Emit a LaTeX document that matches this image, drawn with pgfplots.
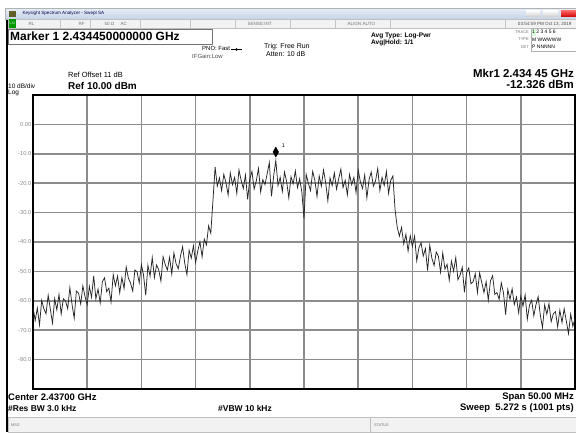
\documentclass[border=0pt]{standalone}
\usepackage{pgfplots}
\pgfplotsset{compat=1.18}
\usepackage{pgfplotstable}
\usepackage{fontspec}
\setmainfont{Liberation Sans}
\definecolor{gridc}{gray}{0.55}
\definecolor{barc}{HTML}{F2F2F2}
\definecolor{titlea}{HTML}{E6EDF7}
\definecolor{titleb}{HTML}{C5D4E8}
\definecolor{stxt}{gray}{0.45}
\newcommand{\fs}[1]{\fontsize{#1}{#1}\selectfont}

\pgfplotstableread[row sep=\\]{
y\\
-62.0\\ -66.7\\ -62.5\\ -68.2\\ -59.9\\ -62.7\\ -64.4\\ -58.1\\ -62.9\\ -67.6\\
-59.3\\ -63.1\\ -57.8\\ -64.5\\ -59.3\\ -60.0\\ -62.7\\ -55.5\\ -61.2\\ -65.9\\
-56.7\\ -57.4\\ -61.1\\ -54.9\\ -58.6\\ -61.3\\ -55.1\\ -58.8\\ -51.5\\ -59.3\\
-56.0\\ -60.7\\ -53.5\\ -52.2\\ -56.9\\ -55.7\\ -60.4\\ -51.1\\ -54.9\\ -51.6\\
-57.3\\ -52.1\\ -55.8\\ -48.5\\ -52.3\\ -54.0\\ -56.7\\ -49.5\\ -50.2\\ -53.9\\
-47.7\\ -51.4\\ -58.1\\ -47.9\\ -51.6\\ -45.3\\ -52.1\\ -47.8\\ -49.5\\ -53.3\\
-45.0\\ -47.7\\ -49.5\\ -45.2\\ -50.9\\ -43.7\\ -47.4\\ -49.1\\ -44.9\\ -41.6\\
-47.3\\ -51.1\\ -42.8\\ -45.5\\ -41.3\\ -47.0\\ -43.0\\ -40.0\\ -45.0\\ -39.0\\
-41.0\\ -34.5\\ -37.0\\ -26.0\\
-14.5\\ -21.0\\ -18.2\\ -22.5\\ -17.0\\ -19.8\\ -24.0\\ -16.5\\ -20.5\\ -18.0\\
-23.5\\ -15.5\\ -19.0\\ -21.8\\ -17.2\\ -25.5\\ -18.5\\ -16.0\\ -22.0\\ -19.2\\
-15.0\\ -23.0\\ -18.8\\ -20.5\\ -16.8\\ -13.0\\ -24.5\\ -17.5\\ -12.3\\ -20.8\\
-18.0\\ -22.8\\ -16.2\\ -19.5\\ -25.0\\ -17.8\\ -20.2\\ -15.8\\ -21.5\\ -18.5\\
-23.0\\ -32.0\\
-17.0\\ -20.0\\ -22.5\\ -16.0\\ -19.0\\ -24.5\\ -17.5\\ -21.0\\ -15.5\\ -19.8\\
-26.0\\ -18.2\\ -20.8\\ -16.5\\ -22.0\\ -18.5\\ -15.2\\ -21.5\\ -19.0\\ -24.0\\
-17.0\\ -20.5\\ -18.0\\ -23.2\\ -15.5\\ -19.5\\ -21.8\\ -17.2\\ -25.0\\ -18.8\\
-16.2\\ -21.0\\ -19.2\\ -15.0\\ -22.5\\ -18.0\\ -20.8\\ -16.0\\ -23.5\\ -19.0\\
-17.5\\ -29.0\\
-35.0\\ -38.0\\ -35.0\\ -40.7\\ -37.4\\ -43.1\\ -37.8\\ -41.5\\ -38.0\\ -46.4\\
-41.9\\ -40.3\\ -44.8\\ -42.2\\ -49.7\\ -41.1\\ -45.6\\ -48.0\\ -43.4\\ -44.9\\
-50.3\\ -43.7\\ -49.2\\ -47.6\\ -53.0\\ -46.5\\ -49.9\\ -45.3\\ -52.8\\ -51.2\\
-48.6\\ -57.1\\ -50.5\\ -48.8\\ -54.2\\ -53.5\\ -50.8\\ -57.2\\ -50.5\\ -53.8\\
-57.2\\ -53.5\\ -59.8\\ -53.2\\ -51.5\\ -57.8\\ -57.2\\ -59.5\\ -53.9\\ -57.3\\
-64.7\\ -56.1\\ -59.5\\ -55.9\\ -61.3\\ -58.7\\ -64.1\\ -58.5\\ -61.8\\ -58.0\\
-66.3\\ -61.5\\ -59.8\\ -65.1\\ -61.3\\ -58.6\\ -64.9\\ -69.1\\ -61.4\\ -64.6\\
-60.9\\ -67.1\\ -64.4\\ -63.7\\ -68.9\\ -63.2\\ -67.4\\ -62.7\\ -66.9\\ -71.2\\
-64.5\\ -68.7\\ -66.0\\
}\trace

\begin{document}
\begin{tikzpicture}[x=1bp,y=1bp]
\useasboundingbox (0,0) rectangle (576,432);
\fill[white] (0,0) rectangle (576,432);

\begin{axis}[
  at={(33bp,43bp)}, anchor=south west,
  width=542bp, height=294bp, scale only axis,
  xmin=-25, xmax=25, ymin=-90, ymax=10,
  xtick={-20,-15,...,20}, xticklabels={},
  ytick={-80,-70,...,0},
  yticklabels={-80.0,-70.0,-60.0,-50.0,-40.0,-30.0,-20.0,-10.0,0.00},
  major tick length=0pt,
  grid=major, grid style={gridc, line width=1.5bp},
  axis line style={black, line width=2bp},
  yticklabel style={font=\fs{5.8}, text=black!45, inner sep=1.5bp},
  clip=true,
]
\addplot[black!85, line width=0.75bp] table[x expr=\coordindex*0.2-25, y=y] {\trace};
\addplot[only marks, mark=diamond*, mark size=5bp, black,
  mark options={xscale=0.75}] coordinates {(-2.6,-9.4)};
\node[font=\fs{5.5}] at (axis cs:-1.9,-7.3) {1};
\end{axis}

\begin{scope}[shift={(0,432)}, yscale=-1]
% window border
\draw[black, line width=2bp] (7,19) -- (7,432);
% title bar
\shade[top color=titlea, bottom color=titleb] (5,8.5) rectangle (576,19);
\draw[gray!60, line width=0.4bp] (5,8.5) rectangle (576,19);
\fill[olive!60!black] (9,11) rectangle (16,17);
\node[anchor=west, font=\fs{4.6}, text=blue!30!black] at (19,13.8) {Keysight Spectrum Analyzer - Swept SA};
\shade[top color=white, bottom color=gray!40] (526,10.5) rectangle (540,17);
\shade[top color=white, bottom color=gray!40] (543,10.5) rectangle (558,17);
\shade[top color=red!60, bottom color=red!80!black] (561,10.5) rectangle (576,17);
% status row
\fill[barc] (8,19) rectangle (576,28.5);
\draw[gray!50, line width=0.4bp] (8,19) rectangle (576,28.5);
\fill[green!60!black] (8.5,19.5) rectangle (16,28);
\node[font=\fs{3.5}, text=white] at (12.2,23.8) {LXI};
\foreach \xx in {60,90,140,190,235,290,335,390,505} \draw[gray!45, line width=0.4bp] (\xx,19) -- (\xx,28.5);
\node[anchor=west, font=\fs{4.6}, text=stxt] at (25,23.8) {RL};
\node[anchor=west, font=\fs{4.6}, text=stxt] at (75,23.8) {RF};
\node[anchor=west, font=\fs{4.6}, text=stxt] at (101,23.8) {50 Ω};
\node[anchor=west, font=\fs{4.6}, text=stxt] at (117,23.8) {AC};
\node[anchor=west, font=\fs{4.6}, text=stxt] at (244,23.8) {SENSE:INT};
\node[anchor=west, font=\fs{4.6}, text=stxt] at (344,23.8) {ALIGN AUTO};
\node[anchor=east, font=\fs{4.6}, text=black!70] at (575,23.8) {03:54:59 PM Oct 13, 2019};
% marker box
\draw[black!55, line width=0.6bp] (8,29) rectangle (212,44);
\node[anchor=west, font=\bfseries\fs{12}, inner sep=0pt] at (10,36.5) {Marker 1 2.434450000000 GHz};
\node[anchor=west, font=\fs{6}, inner sep=0pt] at (202,48.5) {PNO: Fast};
\node[anchor=west, font=\fs{6}, text=black!70, inner sep=0pt] at (192,56.5) {IFGain:Low};
\draw[black, line width=0.5bp] (231,49.5) -- (242,49.5);
\fill[black] (236.5,49.5) circle (1.3);
\node[anchor=west, font=\fs{7}, inner sep=0pt] at (264,46.5) {Trig: Free Run};
\node[anchor=west, font=\fs{7}, inner sep=0pt] at (266,54.5) {Atten: 10 dB};
\node[anchor=west, font=\bfseries\fs{6.6}, inner sep=0pt] at (371,35.5) {Avg Type: Log-Pwr};
\node[anchor=west, font=\bfseries\fs{6.6}, inner sep=0pt] at (371,43) {Avg|Hold: 1/1};
% trace panel
\node[anchor=east, font=\fs{4}, text=stxt, inner sep=0pt] at (529,32) {TRACE};
\node[anchor=east, font=\fs{4}, text=stxt, inner sep=0pt] at (529,39.5) {TYPE};
\node[anchor=east, font=\fs{4}, text=stxt, inner sep=0pt] at (529,47) {DET};
\draw[gray!60, line width=0.4bp] (531,28.5) rectangle (576,51);
\fill[green!15] (531.5,29) rectangle (535.5,35.5);
\node[anchor=west, font=\fs{5}, inner sep=0pt] at (532,32) {1 2 3 4 5 6};
\node[anchor=west, font=\fs{5}, inner sep=0pt] at (532,39.5) {M WWWWW};
\node[anchor=west, font=\fs{5}, inner sep=0pt] at (532,47) {P NNNNN};
% reference text
\node[anchor=west, font=\fs{7.5}, inner sep=0pt] at (68,75) {Ref Offset 11 dB};
\node[anchor=west, font=\bfseries\fs{10}, inner sep=0pt] at (68,85.5) {Ref 10.00 dBm};
\node[anchor=west, font=\fs{6.5}, inner sep=0pt] at (8,86) {10 dB/div};
\node[anchor=west, font=\fs{6.5}, inner sep=0pt] at (8,92.5) {Log};
\node[anchor=east, font=\bfseries\fs{11.5}, inner sep=0pt] at (574,73) {Mkr1 2.434 45 GHz};
\node[anchor=east, font=\bfseries\fs{11.5}, inner sep=0pt] at (574,84.5) {-12.326 dBm};
% bottom annotations
\node[anchor=west, font=\bfseries\fs{9.5}, inner sep=0pt] at (8,397) {Center 2.43700 GHz};
\node[anchor=west, font=\bfseries\fs{8.5}, inner sep=0pt] at (8,408.5) {\#Res BW 3.0 kHz};
\node[anchor=west, font=\bfseries\fs{8.5}, inner sep=0pt] at (218,408.5) {\#VBW 10 kHz};
\node[anchor=east, font=\bfseries\fs{9.5}, inner sep=0pt] at (574,397) {Span 50.00 MHz};
\node[anchor=east, font=\bfseries\fs{9.5}, inner sep=0pt] at (574,408.5) {Sweep\ \ 5.272 s (1001 pts)};
% bottom bar
\fill[barc] (8,417) rectangle (576,432);
\draw[gray!50, line width=0.4bp] (8,417) rectangle (576,432);
\draw[gray!50, line width=0.4bp] (370,417) -- (370,432);
\node[anchor=west, font=\fs{3.8}, text=stxt, inner sep=0pt] at (11,425) {MSG};
\node[anchor=west, font=\fs{3.8}, text=stxt, inner sep=0pt] at (374,425) {STATUS};
\end{scope}
\end{tikzpicture}
\end{document}
